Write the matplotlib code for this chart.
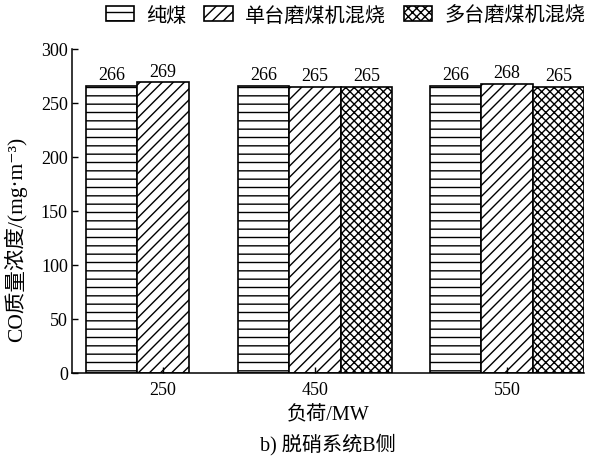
import numpy as np
import matplotlib
matplotlib.use('Agg')
import matplotlib.pyplot as plt
from matplotlib.patches import Patch

plt.rcParams['font.family'] = ['Liberation Serif', 'Noto Sans CJK SC', 'DejaVu Sans']
plt.rcParams['hatch.linewidth'] = 1.0

# 数据
loads = ['250', '450', '550']
series = ['纯煤', '单台磨煤机混烧', '多台磨煤机混烧']
pure_coal = [266, 266, 266]
single_mill = [269, 265, 268]
multi_mill = [np.nan, 265, 265]

hatches = ['--', '///', 'xxxx']
group_x = np.array([1.77, 4.72, 8.45])
width = 1.0

fig = plt.figure(figsize=(5.91, 4.6), dpi=100)
ax = fig.add_axes([72/591, 1-374/460, 512/591, 324/460])

for i, vals in enumerate([pure_coal, single_mill, multi_mill]):
    vals = np.array(vals, dtype=float)
    ok = ~np.isnan(vals)
    xs = group_x[ok] + (i - 1) * width
    bars = ax.bar(xs, vals[ok], width, color='white', edgecolor='black',
                  linewidth=1.2, hatch=hatches[i])
    ax.bar_label(bars, labels=[f'{v:.0f}' for v in vals[ok]], padding=2, fontsize=13)

ax.set_xlim(0, 9.95)
ax.set_ylim(0, 300)
ax.set_yticks(range(0, 301, 50))
ax.set_xticks(group_x)
ax.set_xticklabels(loads)
ax.tick_params(direction='in', length=4, width=1.0, labelsize=13)
ax.tick_params(axis='x', pad=6)
ax.tick_params(axis='y', pad=3)
for s in ['top', 'right']:
    ax.spines[s].set_visible(False)
for s in ['left', 'bottom']:
    ax.spines[s].set_linewidth(1.1)

ax.set_xlabel('负荷/MW', fontsize=14.5, labelpad=5)
ax.set_ylabel('CO质量浓度/(mg·m⁻³)', fontsize=15.5)
ax.yaxis.set_label_coords((27 - 72) / 512, 0.415)

handles = [Patch(facecolor='white', edgecolor='black', hatch=h, linewidth=1.2) for h in hatches]
fig.legend(handles, series, loc='center right', ncol=3, frameon=False,
           bbox_to_anchor=(603/591, 1-17/460), fontsize=14.5,
           handlelength=1.4, handleheight=0.7, handletextpad=0.6, columnspacing=0.9)

fig.text(328/591, 1-445/460, 'b) 脱硝系统B侧', ha='center', va='center', fontsize=14.5)

fig.savefig('out.png', dpi=100)
